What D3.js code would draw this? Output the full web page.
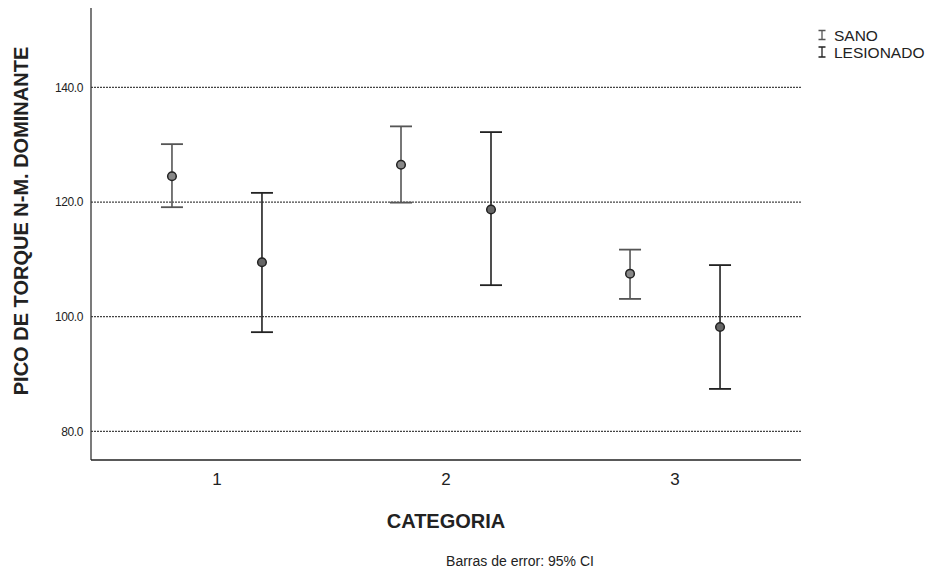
<!DOCTYPE html>
<html>
<head>
<meta charset="utf-8">
<script src="https://cdn.jsdelivr.net/npm/d3@7"></script>
<style>
  body { margin: 0; background: #fff; }
  text { font-family: "Liberation Sans", Arial, sans-serif; fill: #222; }
</style>
</head>
<body>
<script>
// error bar chart: means with 95% CI, per category

var width = 937,
    height = 571;

var categories = ["1", "2", "3"];
var series = ["SANO", "LESIONADO"];

var sanoMean = [124.5, 126.5, 107.5];
var sanoLow  = [119.1, 119.9, 103.1];
var sanoHigh = [130.1, 133.2, 111.7];

var lesMean = [109.5, 118.7, 98.2];
var lesLow  = [97.3, 105.5, 87.4];
var lesHigh = [121.6, 132.2, 109.0];

var yTicks = [80, 100, 120, 140];

var plotLeft = 91, plotRight = 801, plotTop = 8, plotBottom = 460;

var svg = d3.select("body").append("svg")
    .attr("width", width)
    .attr("height", height);

var y = d3.scaleLinear().domain([75, 153.5]).range([plotBottom, plotTop + 2]);
var x = d3.scalePoint().domain(categories).range([plotLeft, plotRight]).padding(0.55);
var offset = d3.scalePoint().domain(series).range([-45, 45]);

// gridlines
svg.append("g").selectAll("line")
    .data(yTicks)
    .enter().append("line")
    .attr("x1", plotLeft).attr("x2", plotRight)
    .attr("y1", function(d) { return y(d); })
    .attr("y2", function(d) { return y(d); })
    .attr("stroke", "#444")
    .attr("stroke-width", 1.2)
    .attr("stroke-dasharray", "2,1");

// y tick labels
svg.append("g").selectAll("text")
    .data(yTicks)
    .enter().append("text")
    .attr("x", 83)
    .attr("y", function(d) { return y(d); })
    .attr("dy", "0.35em")
    .attr("text-anchor", "end")
    .style("font-size", "12px")
    .style("letter-spacing", "-0.4px")
    .text(function(d) { return d.toFixed(1); });

// axes lines
svg.append("line")
    .attr("x1", plotLeft).attr("x2", plotLeft)
    .attr("y1", plotTop).attr("y2", plotBottom)
    .attr("stroke", "#333").attr("stroke-width", 1.3);
svg.append("line")
    .attr("x1", plotLeft).attr("x2", plotRight)
    .attr("y1", plotBottom).attr("y2", plotBottom)
    .attr("stroke", "#222").attr("stroke-width", 1.6);

// x tick labels
svg.append("g").selectAll("text")
    .data(categories)
    .enter().append("text")
    .attr("x", function(d) { return x(d); })
    .attr("y", 485)
    .attr("text-anchor", "middle")
    .style("font-size", "17px")
    .text(function(d) { return d; });

// build rows from the arrays
var rows = [];
categories.forEach(function(c, i) {
  rows.push({cat: c, s: "SANO", mean: sanoMean[i], lo: sanoLow[i], hi: sanoHigh[i]});
  rows.push({cat: c, s: "LESIONADO", mean: lesMean[i], lo: lesLow[i], hi: lesHigh[i]});
});

var strokeColor = { "SANO": "#555", "LESIONADO": "#222" };
var capW = 11;

var bars = svg.append("g").selectAll("g")
    .data(rows)
    .enter().append("g")
    .attr("transform", function(d) { return "translate(" + (x(d.cat) + offset(d.s)) + ",0)"; });

bars.append("line")
    .attr("x1", 0).attr("x2", 0)
    .attr("y1", function(d) { return y(d.hi); })
    .attr("y2", function(d) { return y(d.lo); })
    .attr("stroke", function(d) { return strokeColor[d.s]; })
    .attr("stroke-width", 1.6);

bars.selectAll(".cap")
    .data(function(d) { return [{s: d.s, v: d.hi}, {s: d.s, v: d.lo}]; })
    .enter().append("line")
    .attr("class", "cap")
    .attr("x1", -capW).attr("x2", capW)
    .attr("y1", function(d) { return y(d.v); })
    .attr("y2", function(d) { return y(d.v); })
    .attr("stroke", function(d) { return strokeColor[d.s]; })
    .attr("stroke-width", 1.8);

bars.append("circle")
    .attr("cy", function(d) { return y(d.mean); })
    .attr("r", 4.3)
    .attr("fill", function(d) { return d.s === "SANO" ? "#888" : "#666"; })
    .attr("stroke", "#222")
    .attr("stroke-width", 1.5);

// axis titles
svg.append("text")
    .attr("transform", "translate(28,221) rotate(-90)")
    .attr("text-anchor", "middle")
    .style("font-size", "20px")
    .style("font-weight", "bold")
    .text("PICO DE TORQUE N-M. DOMINANTE");

svg.append("text")
    .attr("x", 446)
    .attr("y", 528)
    .attr("text-anchor", "middle")
    .style("font-size", "20px")
    .style("font-weight", "bold")
    .text("CATEGORIA");

svg.append("text")
    .attr("x", 520)
    .attr("y", 566)
    .attr("text-anchor", "middle")
    .style("font-size", "14px")
    .text("Barras de error: 95% CI");

// legend
var legend = svg.append("g").selectAll("g")
    .data(series)
    .enter().append("g")
    .attr("transform", function(d, i) { return "translate(822," + (i ? 52 : 35) + ")"; });

legend.append("path")
    .attr("d", function(d, i) { var h = i ? 5 : 4.5; return "M-3.5," + (-h) + "H3.5M0," + (-h) + "V" + h + "M-3.5," + h + "H3.5"; })
    .attr("stroke", function(d) { return strokeColor[d]; })
    .attr("stroke-width", 1.3)
    .attr("fill", "none");

legend.append("text")
    .attr("x", 12)
    .attr("dy", "0.36em")
    .style("font-size", "15.5px")
    .text(function(d) { return d; });
</script>
</body>
</html>
